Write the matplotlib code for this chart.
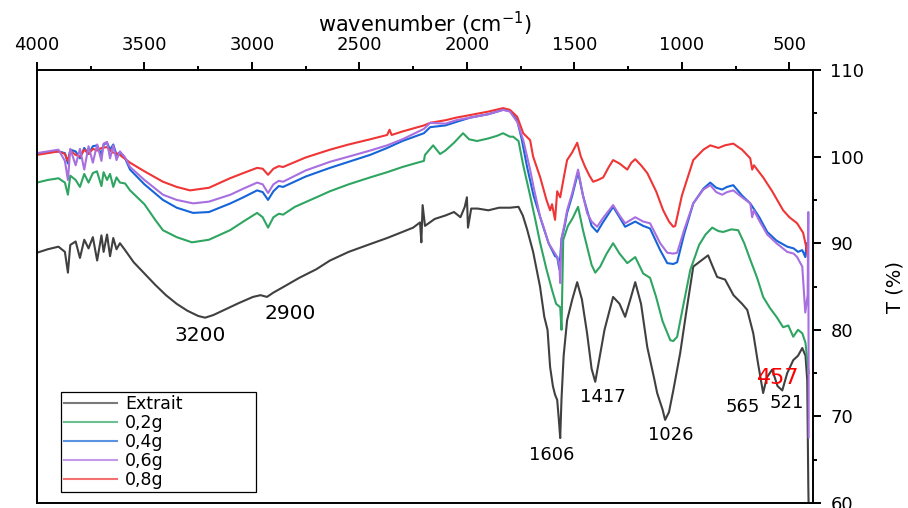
import matplotlib
matplotlib.use('Agg')
import matplotlib.pyplot as plt
from matplotlib.ticker import MultipleLocator

plt.rcParams['font.family'] = ['DejaVu Sans']

# Extrait (black)
wn_ext = [4000, 3950, 3900, 3870, 3856, 3845, 3820, 3800, 3780, 3760, 3740, 3720, 3700, 3690, 3674,
          3660, 3645, 3630, 3614, 3590, 3550, 3500, 3450, 3400, 3350, 3300, 3250, 3218, 3180, 3120,
          3060, 2995, 2960, 2930, 2900, 2850, 2780, 2700, 2637, 2550, 2450, 2371, 2300, 2250, 2218,
          2212, 2206, 2195, 2150, 2100, 2060, 2030, 2010, 2000, 1995, 1980, 1950, 1900, 1850, 1800,
          1760, 1740, 1720, 1692, 1660, 1640, 1625, 1613, 1600, 1590, 1580, 1572, 1566, 1560, 1550,
          1534, 1510, 1487, 1465, 1441, 1420, 1403, 1385, 1360, 1320, 1290, 1264, 1240, 1217, 1190,
          1161, 1130, 1115, 1090, 1078, 1060, 1040, 1008, 980, 947, 910, 878, 860, 836, 799, 760,
          720, 696, 668, 645, 622, 605, 580, 555, 533, 510, 482, 460, 440, 425, 417, 412, 410]
t_ext = [88.9, 89.3, 89.6, 89.0, 86.6, 89.8, 90.2, 88.3, 90.4, 89.4, 90.7, 88.0, 90.9, 89.0, 91.0,
         88.5, 90.6, 89.3, 90.0, 89.2, 87.8, 86.5, 85.2, 84.0, 83.0, 82.2, 81.6, 81.4, 81.7, 82.4,
         83.1, 83.8, 84.0, 83.8, 84.3, 85.0, 86.0, 87.0, 88.0, 89.0, 89.9, 90.6, 91.3, 91.8, 92.4,
         90.1, 94.4, 92.0, 92.8, 93.2, 93.6, 93.0, 94.2, 95.3, 91.8, 94.0, 94.0, 93.8, 94.1, 94.1,
         94.2, 93.2, 91.6, 89.0, 85.0, 81.5, 80.0, 75.7, 73.5, 72.5, 71.9, 69.5, 67.5, 72.0, 77.0,
         81.1, 83.5, 85.5, 83.5, 79.6, 75.5, 74.0, 76.5, 80.0, 83.8, 83.0, 81.5, 83.5, 85.5, 83.0,
         78.0, 74.5, 72.7, 70.8, 69.6, 70.5, 73.0, 77.3, 82.0, 87.3, 88.0, 88.6, 87.5, 86.1, 85.8, 84.0,
         83.0, 82.3, 79.6, 76.0, 72.7, 74.5, 75.4, 73.5, 73.0, 75.0, 76.5, 77.0, 77.9, 77.0, 74.2, 62.0, 59.0]

# 0,2g (green)
wn_02 = [4000, 3950, 3900, 3870, 3856, 3845, 3820, 3800, 3780, 3760, 3740, 3721, 3700, 3690, 3674,
         3660, 3645, 3630, 3614, 3590, 3567, 3500, 3450, 3414, 3350, 3279, 3200, 3102, 3040, 2976,
         2950, 2925, 2900, 2875, 2855, 2800, 2700, 2637, 2550, 2450, 2371, 2300, 2230, 2200, 2195,
         2157, 2125, 2100, 2060, 2018, 1990, 1953, 1900, 1860, 1832, 1800, 1785, 1760, 1738, 1706,
         1680, 1659, 1630, 1604, 1585, 1566, 1560, 1552, 1530, 1510, 1483, 1460, 1441, 1420, 1403,
         1380, 1350, 1320, 1290, 1254, 1217, 1180, 1148, 1120, 1090, 1054, 1040, 1022, 1000, 961,
         920, 890, 859, 830, 808, 770, 738, 710, 682, 650, 622, 590, 560, 529, 505, 482, 460, 440,
         425, 417, 410]
t_02 = [97.0, 97.3, 97.5, 97.0, 95.6, 97.8, 97.3, 96.5, 98.0, 97.0, 98.1, 98.3, 96.6, 98.2, 97.3,
        98.0, 96.5, 97.6, 97.0, 96.9, 96.1, 94.5, 92.7, 91.5, 90.7, 90.1, 90.4, 91.5, 92.5, 93.5,
        93.0, 91.8, 93.0, 93.4, 93.3, 94.2, 95.3, 96.0, 96.8, 97.6, 98.2, 98.8, 99.3, 99.5, 100.2,
        101.3, 100.3, 100.7, 101.6, 102.7, 102.0, 101.8, 102.1, 102.4, 102.7, 102.3, 102.3, 101.8, 99.0, 95.5,
        92.5, 90.0, 87.0, 84.6, 83.0, 82.6, 80.0, 90.4, 92.0, 92.8, 94.2, 91.5, 89.6, 87.5, 86.6,
        87.3, 88.8, 90.0, 88.8, 87.7, 88.4, 86.5, 86.0, 83.8, 81.0, 78.8, 78.7, 79.2, 82.0, 86.9,
        89.8, 91.0, 91.8, 91.4, 91.3, 91.6, 91.5, 90.0, 88.1, 86.0, 83.8, 82.5, 81.5, 80.3, 80.5, 79.2, 80.0, 79.6,
        78.5, 76.5, 75.0]

# 0,4g (blue)
wn_04 = [4000, 3950, 3900, 3870, 3856, 3845, 3820, 3800, 3780, 3760, 3740, 3720, 3700, 3690, 3674,
         3660, 3645, 3630, 3614, 3590, 3567, 3500, 3414, 3350, 3274, 3200, 3100, 3040, 2976, 2950,
         2925, 2900, 2875, 2855, 2750, 2637, 2550, 2450, 2371, 2300, 2200, 2171, 2100, 2050, 1985,
         1900, 1832, 1800, 1766, 1745, 1720, 1690, 1659, 1645, 1620, 1590, 1580, 1570, 1560, 1545,
         1534, 1510, 1483, 1460, 1441, 1420, 1394, 1370, 1320, 1290, 1264, 1217, 1180, 1148, 1101,
         1068, 1040, 1022, 990, 947, 900, 868, 840, 813, 790, 761, 720, 682, 640, 603, 560, 510,
         480, 460, 440, 426, 420]
t_04 = [100.3, 100.5, 100.6, 100.4, 99.2, 100.8, 100.6, 99.8, 101.0, 100.3, 101.2, 101.3, 100.2, 101.4, 101.6,
        100.8, 101.4, 100.2, 100.5, 99.8, 98.5, 96.8, 95.0, 94.1, 93.5, 93.6, 94.6, 95.3, 96.1, 95.9,
        95.0, 96.0, 96.6, 96.5, 97.7, 98.7, 99.4, 100.2, 101.0, 101.8, 102.7, 103.4, 103.6, 104.0, 104.5,
        104.9, 105.4, 105.3, 104.2, 102.0, 98.8, 95.5, 93.0, 91.9, 90.0, 88.5, 88.4, 87.0, 90.5, 92.0,
        93.5, 95.5, 98.2, 95.5, 93.8, 92.0, 91.3, 92.3, 94.2, 93.0, 91.9, 92.5, 92.0, 91.7, 89.2,
        87.7, 87.6, 87.8, 91.0, 94.6, 96.3, 97.0, 96.4, 96.2, 96.5, 96.7, 95.5, 94.6, 93.0, 91.3, 90.3, 89.6,
        89.4, 89.0, 89.2, 88.4, 90.0]

# 0,6g (purple)
wn_06 = [4000, 3950, 3900, 3870, 3856, 3845, 3820, 3800, 3780, 3760, 3740, 3720, 3700, 3690, 3674,
         3660, 3645, 3630, 3614, 3590, 3567, 3500, 3414, 3350, 3274, 3200, 3100, 3040, 2976, 2950,
         2925, 2900, 2875, 2855, 2750, 2637, 2550, 2450, 2371, 2300, 2200, 2171, 2100, 2050, 1985,
         1900, 1832, 1800, 1766, 1738, 1706, 1690, 1659, 1645, 1620, 1590, 1580, 1570, 1566, 1560,
         1545, 1534, 1510, 1483, 1460, 1441, 1420, 1394, 1370, 1320, 1290, 1264, 1217, 1180, 1148,
         1101, 1068, 1040, 1022, 990, 947, 900, 868, 840, 813, 790, 761, 720, 682, 673, 665, 640,
         603, 560, 510, 480, 464, 440, 426, 415, 412, 410]
t_06 = [100.4, 100.6, 100.8, 99.5, 97.3, 100.9, 99.0, 100.9, 98.5, 101.2, 99.3, 101.4, 99.5, 101.5, 101.7,
        99.8, 101.3, 99.6, 100.6, 99.9, 98.8, 97.3, 95.6, 95.0, 94.6, 94.8, 95.6, 96.3, 97.0, 96.8,
        95.8, 96.8, 97.2, 97.1, 98.4, 99.4, 100.0, 100.7, 101.3, 102.0, 103.2, 103.9, 103.8, 104.2, 104.5,
        104.9, 105.4, 105.2, 104.0, 101.9, 98.5, 96.5, 93.0, 92.0, 90.0, 88.8, 88.4, 87.5, 85.4, 90.5,
        92.3, 93.8, 95.8, 98.5, 95.5, 93.5, 92.5, 91.9, 92.8, 94.4, 93.2, 92.3, 93.0, 92.5, 92.3,
        90.0, 88.9, 88.8, 88.9, 91.5, 94.6, 96.2, 96.7, 95.9, 95.6, 95.9, 96.1, 95.3, 94.6, 93.0, 93.8, 92.6,
        91.0, 90.0, 89.0, 88.8, 88.4, 87.3, 82.0, 84.0, 93.6, 67.6]

# 0,8g (red)
wn_08 = [4000, 3950, 3900, 3870, 3856, 3845, 3820, 3800, 3780, 3760, 3740, 3720, 3700, 3674, 3650,
         3620, 3567, 3500, 3414, 3350, 3288, 3200, 3102, 3040, 2976, 2950, 2925, 2900, 2875, 2855,
         2750, 2637, 2550, 2450, 2371, 2360, 2350, 2300, 2200, 2171, 2100, 2050, 1985, 1900, 1832,
         1800, 1766, 1738, 1706, 1692, 1659, 1630, 1613, 1604, 1590, 1580, 1566, 1550, 1534, 1510,
         1487, 1470, 1450, 1430, 1413, 1390, 1366, 1340, 1320, 1290, 1254, 1235, 1217, 1190, 1161,
         1120, 1087, 1060, 1040, 1031, 1000, 947, 900, 868, 830, 800, 761, 720, 682, 673, 665, 622,
         580, 529, 500, 464, 436, 422, 415]
t_08 = [100.2, 100.4, 100.6, 100.3, 99.5, 100.7, 100.2, 100.0, 100.8, 100.3, 100.9, 100.7, 101.0, 101.1, 100.5,
        100.3, 99.3, 98.3, 97.1, 96.5, 96.1, 96.4, 97.5, 98.1, 98.7, 98.6, 97.9, 98.6, 98.9, 98.8,
        99.9, 100.8, 101.4, 102.0, 102.5, 103.1, 102.5, 102.9, 103.6, 103.9, 104.2, 104.5, 104.8, 105.2, 105.6,
        105.4, 104.6, 102.7, 101.9, 100.0, 97.6, 95.0, 93.8, 94.5, 92.7, 96.0, 95.3, 97.5, 99.6, 100.5,
        101.6, 100.0, 98.8, 97.8, 97.1, 97.3, 97.6, 98.8, 99.6, 99.2, 98.5, 99.3, 99.7, 99.0, 98.1,
        96.0, 93.8, 92.5, 91.9, 92.0, 95.5, 99.6, 100.8, 101.3, 101.0, 101.3, 101.5, 100.8, 99.8, 98.5, 99.0, 97.6,
        96.0, 93.8, 93.0, 92.3, 91.2, 89.6, 88.5]

series = [
    ('Extrait', wn_ext, t_ext, '#404040', 2.0),
    ('0,2g', wn_02, t_02, '#2fa562', 2.1),
    ('0,4g', wn_04, t_04, '#1565d8', 2.2),
    ('0,6g', wn_06, t_06, '#a86fe0', 2.4),
    ('0,8g', wn_08, t_08, '#ef3535', 2.3),
]

# peak labels: (text, wavenumber, T, colour, size)
peaks = [('3200', 3241, 79.4, 'black', 14.5),
         ('2900', 2823, 81.9, 'black', 14.5),
         ('1606', 1604, 65.5, 'black', 13),
         ('1417', 1366, 72.2, 'black', 13),
         ('1026', 1050, 67.9, 'black', 13),
         ('565', 715, 71.1, 'black', 13),
         ('521', 510, 71.5, 'black', 13),
         ('457', 552, 74.4, 'red', 16)]

fig = plt.figure(figsize=(9.08, 5.08), dpi=100)
ax = fig.add_axes([0.0407, 0.0098, 0.8547, 0.8524])

for name, wn, t, col, z in series:
    ax.plot(wn, t, color=col, lw=1.5, label=name, zorder=z)

for txt, x, y, col, fs in peaks:
    ax.text(x, y, txt, color=col, fontsize=fs, ha='center', va='center')

ax.set_xlim(4000, 390)
ax.set_ylim(60, 110)

ax.xaxis.tick_top()
ax.xaxis.set_label_position('top')
ax.yaxis.tick_right()
ax.yaxis.set_label_position('right')
ax.xaxis.set_major_locator(MultipleLocator(500))
ax.xaxis.set_minor_locator(MultipleLocator(250))
ax.yaxis.set_major_locator(MultipleLocator(10))
ax.yaxis.set_minor_locator(MultipleLocator(5))
ax.tick_params(which='major', direction='out', length=5.5, width=1.4, labelsize=13)
ax.tick_params(which='minor', direction='out', length=3, width=1.4)
ax.tick_params(axis='x', which='major', pad=6)
ax.tick_params(axis='y', which='major', pad=7)
for sp in ax.spines.values():
    sp.set_linewidth(1.4)

ax.set_xlabel('wavenumber (cm$^{-1}$)', fontsize=15, labelpad=3)
ax.set_ylabel('T (%)', fontsize=14, labelpad=15)

leg = ax.legend(loc='lower left', bbox_to_anchor=(0.031, 0.025, 0.251, 0.2), mode='expand',
                borderaxespad=0, fontsize=12.5, handlelength=3.0, labelspacing=0.05,
                borderpad=0.2, handletextpad=0.5, fancybox=False, edgecolor='black',
                framealpha=1)
leg.get_frame().set_linewidth(0.9)
for ln in leg.get_lines():
    ln.set_alpha(0.7)

fig.savefig('out.png', dpi=100)
